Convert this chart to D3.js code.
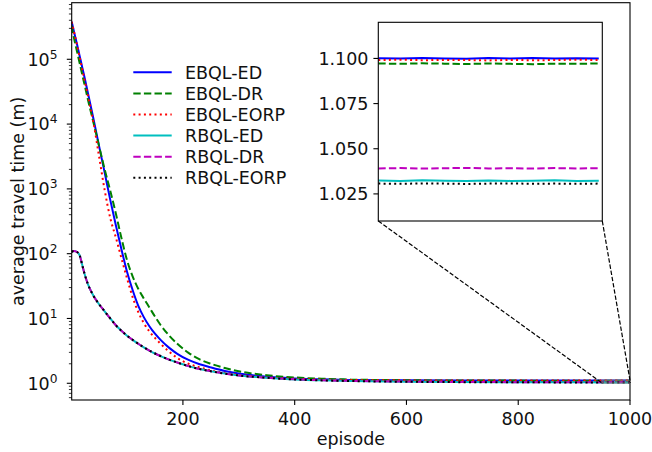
<!DOCTYPE html>
<html>
<head>
<meta charset="utf-8">
<script src="https://cdn.jsdelivr.net/npm/d3@7"></script>
<style>
  body { margin: 0; background: #fff; }
  svg { display: block; font-family: "DejaVu Sans", sans-serif; }
</style>
</head>
<body>
<svg id="chart" width="652" height="452"></svg>
<script>
const EPISODES = [1, 5, 10, 15, 20, 25, 30, 40, 50, 60, 70, 80, 90, 100, 110, 120, 130, 140, 150, 160,
  175, 190, 210, 230, 250, 275, 300, 350, 400, 450, 500, 600, 700, 800, 900,
  950, 955, 960, 965, 970, 975, 980, 985, 990, 995, 1000];

const EBQL_ED = [380000, 269000, 178000, 115000, 74100, 47900, 30200, 12000, 4570, 1780, 676, 275, 117, 52.5,
  27.5, 15.8, 10.5, 7.59, 5.82, 4.68, 3.55, 2.85, 2.29, 1.97, 1.76, 1.55, 1.41, 1.26, 1.19, 1.15, 1.127,
  1.112, 1.104, 1.102, 1.1003,
  1.1001, 1.0999, 1.1003, 1.1000, 1.0998, 1.1002, 1.1000, 1.1003, 1.0999, 1.1001, 1.1000];
const EBQL_DR = [331000, 214000, 138000, 89100, 57500, 37200, 24000, 10500, 4570, 2000, 933, 417, 174, 79.4,
  44.7, 28.8, 20.4, 14.8, 10.7, 7.94, 5.50, 4.07, 2.95, 2.34, 2.00, 1.72, 1.53, 1.33, 1.23, 1.175, 1.143,
  1.114, 1.104, 1.099, 1.0975,
  1.0972, 1.0970, 1.0973, 1.0971, 1.0969, 1.0972, 1.0970, 1.0968, 1.0971, 1.0970, 1.0972];
const EBQL_EORP = [380000, 269000, 174000, 110000, 69200, 43600, 27500, 10500, 3160, 955, 355, 178, 85.1, 41.7,
  21.4, 12.6, 8.51, 6.31, 5.01, 4.07, 3.09, 2.45, 2.00, 1.76, 1.58, 1.45, 1.35, 1.23, 1.175, 1.138, 1.122,
  1.109, 1.102, 1.1004, 1.0995,
  1.0991, 1.0993, 1.0990, 1.0992, 1.0991, 1.0989, 1.0992, 1.0990, 1.0991, 1.0993, 1.0991];
const RBQL_ED = [107, 110, 107, 95.5, 66.1, 45.7, 33.9, 22.4, 16.6, 12.9, 10.0, 7.85, 6.46, 5.43,
  4.68, 4.07, 3.59, 3.20, 2.88, 2.63, 2.32, 2.09, 1.84, 1.66, 1.53, 1.41, 1.32, 1.216, 1.148, 1.109, 1.084,
  1.057, 1.042, 1.035, 1.033,
  1.0324, 1.0322, 1.0325, 1.0323, 1.0321, 1.0324, 1.0322, 1.0323, 1.0325, 1.0322, 1.0323];
const RBQL_DR = [107, 110, 107, 95.5, 66.1, 45.7, 33.9, 22.4, 16.6, 12.9, 10.0, 7.85, 6.46, 5.43,
  4.68, 4.07, 3.59, 3.20, 2.88, 2.63, 2.32, 2.09, 1.84, 1.66, 1.53, 1.41, 1.32, 1.218, 1.151, 1.113, 1.089,
  1.062, 1.048, 1.041, 1.040,
  1.0391, 1.0393, 1.0390, 1.0392, 1.0394, 1.0391, 1.0392, 1.0390, 1.0393, 1.0391, 1.0392];
const RBQL_EORP = [107, 110, 107, 95.5, 66.1, 45.7, 33.9, 22.4, 16.6, 12.9, 10.0, 7.85, 6.46, 5.43,
  4.68, 4.07, 3.59, 3.20, 2.88, 2.63, 2.32, 2.09, 1.84, 1.66, 1.53, 1.41, 1.32, 1.215, 1.147, 1.108, 1.083,
  1.056, 1.041, 1.034, 1.032,
  1.0307, 1.0306, 1.0308, 1.0307, 1.0305, 1.0307, 1.0308, 1.0306, 1.0307, 1.0306, 1.0307];

const NAMES = ["EBQL-ED", "EBQL-DR", "EBQL-EORP", "RBQL-ED", "RBQL-DR", "RBQL-EORP"];
const VALUES = [EBQL_ED, EBQL_DR, EBQL_EORP, RBQL_ED, RBQL_DR, RBQL_EORP];
const COLORS = ["#0000ff", "#008000", "#ff0000", "#00bfbf", "#bf00bf", "#000000"];
const DASHES = [null, "7.4,3.2", "2,3.3", null, "7.4,3.2", "2,3.3"];

const X_TICKS = [200, 400, 600, 800, 1000];
const INSET_TICKS = [1.025, 1.050, 1.075, 1.100];
const INSET_X = [950, 1000.8];
const INSET_Y = [1.01, 1.12];

const svg = d3.select("#chart");
const m = { left: 71.7, right: 630, top: 2.7, bottom: 400 };
const fs = 17.5;

const x = d3.scaleLinear().domain([1, 1000]).range([m.left, m.right]);
const y = d3.scaleLog().domain([0.552, 747000]).range([m.bottom, m.top]);

const series = NAMES.map((name, i) => ({
  name, color: COLORS[i], dash: DASHES[i],
  points: EPISODES.map((e, j) => [e, VALUES[i][j]])
}));

const defs = svg.append("defs");
defs.append("clipPath").attr("id", "clipMain").append("rect")
  .attr("x", m.left).attr("y", m.top)
  .attr("width", m.right - m.left).attr("height", m.bottom - m.top);

// main curves
const line = d3.line().x(d => x(d[0])).y(d => y(d[1])).curve(d3.curveMonotoneX);
const main = svg.append("g").attr("clip-path", "url(#clipMain)");
series.forEach(s => {
  main.append("path")
    .attr("d", line(s.points))
    .attr("fill", "none")
    .attr("stroke", s.color)
    .attr("stroke-width", 2)
    .attr("stroke-dasharray", s.dash);
});

// spines
svg.append("rect")
  .attr("x", m.left).attr("y", m.top)
  .attr("width", m.right - m.left).attr("height", m.bottom - m.top)
  .attr("fill", "none").attr("stroke", "#000").attr("stroke-width", 1.1);

// x axis
X_TICKS.forEach(t => {
  svg.append("line")
    .attr("x1", x(t)).attr("x2", x(t))
    .attr("y1", m.bottom).attr("y2", m.bottom + 4.9)
    .attr("stroke", "#000").attr("stroke-width", 1.1);
  svg.append("text")
    .attr("x", x(t)).attr("y", 424.5)
    .attr("text-anchor", "middle")
    .attr("font-size", fs)
    .attr("fill", "#111")
    .text(t);
});
svg.append("text")
  .attr("x", (m.left + m.right) / 2).attr("y", 445)
  .attr("text-anchor", "middle")
  .attr("font-size", fs)
  .attr("fill", "#111")
  .text("episode");

// y axis (log, major + minor ticks)
y.ticks().forEach(t => {
  const lg = Math.log10(t);
  const major = Math.abs(lg - Math.round(lg)) < 1e-9;
  const yy = y(t);
  svg.append("line")
    .attr("x1", m.left).attr("x2", m.left - (major ? 4.9 : 2.8))
    .attr("y1", yy).attr("y2", yy)
    .attr("stroke", "#000").attr("stroke-width", major ? 1.1 : 0.8);
  if (major) {
    const lab = svg.append("text")
      .attr("x", 57.5).attr("y", yy + 6.3)
      .attr("text-anchor", "end")
      .attr("font-size", fs)
      .attr("fill", "#111");
    lab.append("tspan").text("10");
    lab.append("tspan").attr("font-size", fs * 0.7).attr("dy", -7).text(Math.round(lg));
  }
});
svg.append("text")
  .attr("transform", `translate(23.5, ${(m.top + m.bottom) / 2}) rotate(-90)`)
  .attr("text-anchor", "middle")
  .attr("font-size", fs)
  .attr("fill", "#111")
  .text("average travel time (m)");

// legend (no frame)
const legend = svg.append("g");
series.forEach((s, i) => {
  const ly = 72.3 + i * 21.1;
  legend.append("line")
    .attr("x1", 133.3).attr("x2", 171.7)
    .attr("y1", ly).attr("y2", ly)
    .attr("stroke", s.color).attr("stroke-width", 2)
    .attr("stroke-dasharray", s.dash);
  legend.append("text")
    .attr("x", 185).attr("y", ly + 6.6)
    .attr("font-size", fs)
    .attr("fill", "#111")
    .text(s.name);
});

// zoom inset
const ib = { left: 378.3, right: 602.3, top: 22.3, bottom: 221 };
const ix = d3.scaleLinear().domain(INSET_X).range([ib.left, ib.right]);
const iy = d3.scaleLinear().domain(INSET_Y).range([ib.bottom, ib.top]);

// rectangle marking the zoomed region and the two connectors
svg.append("rect")
  .attr("x", x(INSET_X[0])).attr("y", y(INSET_Y[1]))
  .attr("width", x(INSET_X[1]) - x(INSET_X[0]))
  .attr("height", y(INSET_Y[0]) - y(INSET_Y[1]))
  .attr("fill", "none").attr("stroke", "#808080").attr("stroke-width", 1);
[[ib.left, INSET_X[0]], [ib.right, INSET_X[1]]].forEach(([px, ex]) => {
  svg.append("line")
    .attr("x1", px).attr("y1", ib.bottom)
    .attr("x2", x(ex)).attr("y2", y(INSET_Y[0]))
    .attr("stroke", "#000").attr("stroke-width", 1.2)
    .attr("stroke-dasharray", "4.4,1.9");
});

defs.append("clipPath").attr("id", "clipInset").append("rect")
  .attr("x", ib.left).attr("y", ib.top)
  .attr("width", ib.right - ib.left).attr("height", ib.bottom - ib.top);

svg.append("rect")
  .attr("x", ib.left).attr("y", ib.top)
  .attr("width", ib.right - ib.left).attr("height", ib.bottom - ib.top)
  .attr("fill", "#fff");

const iline = d3.line().x(d => ix(d[0])).y(d => iy(d[1]));
const inset = svg.append("g").attr("clip-path", "url(#clipInset)");
series.forEach(s => {
  inset.append("path")
    .attr("d", iline(s.points.filter(d => d[0] >= 945)))
    .attr("fill", "none")
    .attr("stroke", s.color)
    .attr("stroke-width", 2)
    .attr("stroke-dasharray", s.dash);
});

svg.append("rect")
  .attr("x", ib.left).attr("y", ib.top)
  .attr("width", ib.right - ib.left).attr("height", ib.bottom - ib.top)
  .attr("fill", "none").attr("stroke", "#000").attr("stroke-width", 1.1);

INSET_TICKS.forEach(t => {
  svg.append("line")
    .attr("x1", ib.left).attr("x2", ib.left - 4.9)
    .attr("y1", iy(t)).attr("y2", iy(t))
    .attr("stroke", "#000").attr("stroke-width", 1.1);
  svg.append("text")
    .attr("x", ib.left - 9.8).attr("y", iy(t) + 6.3)
    .attr("text-anchor", "end")
    .attr("font-size", fs)
    .attr("fill", "#111")
    .text(d3.format(".3f")(t));
});
</script>
</body>
</html>
